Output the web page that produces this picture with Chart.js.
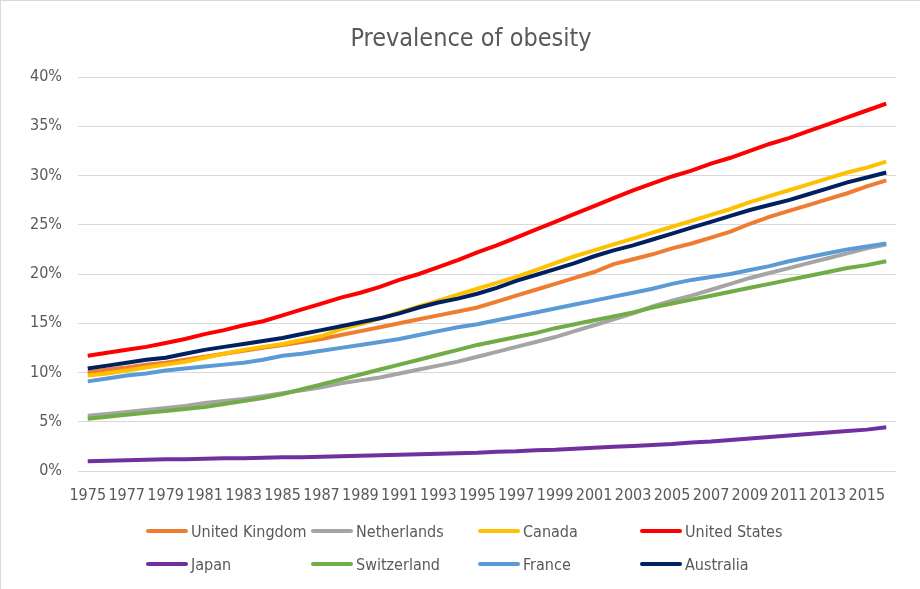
<!DOCTYPE html>
<html lang="en">
<head>
  <meta charset="UTF-8" />
  <title>Prevalence of obesity</title>
  <script src="https://cdn.jsdelivr.net/npm/chart.js"></script>
  <style>
    body {
      margin: 0;
      padding: 0;
      background: #ffffff;
      font-family: 'Liberation Sans Narrow', 'DejaVu Sans Condensed', sans-serif;
    }

    #chart-container {
      position: relative;
      width: 920px;
      height: 589px;
      box-sizing: border-box;
      border-top: 1px solid #d9d9d9;
      border-left: 1px solid #d9d9d9;
    }

    #chart-title {
      position: absolute;
      left: 0;
      top: 22px;
      width: 940px;
      text-align: center;
      font-size: 25px;
      line-height: 30px;
      color: #595959;
    }

    #chart-legend {
      position: absolute;
      left: 145px;
      top: 520px;
      display: grid;
      grid-template-columns: 165px 167px 162px 165px;
      row-gap: 13px;
      font-size: 16px;
      color: #595959;
    }

    .legend-item {
      display: flex;
      align-items: center;
      height: 20px;
    }

    .legend-swatch {
      width: 42px;
      height: 4px;
      border-radius: 2px;
      margin-right: 3px;
    }
  </style>
</head>
<body>
  <div id="chart-container">
    <canvas id="myChart"></canvas>
    <div id="chart-title">Prevalence of obesity</div>
    <div id="chart-legend"></div>
  </div>

  <script>
    // years 1975 - 2016
    const years = [];
    for (let y = 1975; y <= 2016; y++) years.push(String(y));

    const yTicks = [0, 5, 10, 15, 20, 25, 30, 35, 40];

    // prevalence of obesity, % of adults
    const unitedKingdom = [10.0, 10.3, 10.5, 10.8, 11.0, 11.3, 11.6, 11.9, 12.2, 12.5, 12.8, 13.1, 13.4, 13.8, 14.2, 14.6, 15.0, 15.4, 15.8, 16.2, 16.6, 17.2, 17.8, 18.4, 19.0, 19.6, 20.2, 21.0, 21.5, 22.0, 22.6, 23.1, 23.7, 24.3, 25.1, 25.8, 26.4, 27.0, 27.6, 28.2, 28.9, 29.5];
    const netherlands = [5.6, 5.8, 6.0, 6.2, 6.4, 6.6, 6.9, 7.1, 7.3, 7.6, 7.9, 8.2, 8.5, 8.9, 9.2, 9.5, 9.9, 10.3, 10.7, 11.1, 11.6, 12.1, 12.6, 13.1, 13.6, 14.2, 14.8, 15.4, 16.0, 16.7, 17.3, 17.8, 18.4, 19.0, 19.6, 20.1, 20.6, 21.1, 21.6, 22.1, 22.6, 23.0];
    const canada = [9.7, 9.9, 10.2, 10.5, 10.8, 11.1, 11.5, 11.9, 12.3, 12.6, 12.9, 13.3, 13.7, 14.4, 14.9, 15.5, 16.1, 16.7, 17.3, 17.9, 18.5, 19.1, 19.7, 20.4, 21.1, 21.8, 22.4, 23.0, 23.6, 24.2, 24.8, 25.4, 26.0, 26.6, 27.3, 27.9, 28.5, 29.1, 29.7, 30.3, 30.8, 31.4];
    const unitedStates = [11.7, 12.0, 12.3, 12.6, 13.0, 13.4, 13.9, 14.3, 14.8, 15.2, 15.8, 16.4, 17.0, 17.6, 18.1, 18.7, 19.4, 20.0, 20.7, 21.4, 22.2, 22.9, 23.7, 24.5, 25.3, 26.1, 26.9, 27.7, 28.5, 29.2, 29.9, 30.5, 31.2, 31.8, 32.5, 33.2, 33.8, 34.5, 35.2, 35.9, 36.6, 37.3];
    const japan = [1.0, 1.05, 1.1, 1.15, 1.2, 1.2, 1.25, 1.3, 1.3, 1.35, 1.4, 1.4, 1.45, 1.5, 1.55, 1.6, 1.65, 1.7, 1.75, 1.8, 1.85, 1.95, 2.0, 2.1, 2.15, 2.25, 2.35, 2.45, 2.55, 2.65, 2.75, 2.9, 3.0, 3.15, 3.3, 3.45, 3.6, 3.75, 3.9, 4.05, 4.2, 4.45];
    const switzerland = [5.3, 5.5, 5.7, 5.9, 6.1, 6.3, 6.5, 6.8, 7.1, 7.4, 7.8, 8.3, 8.8, 9.3, 9.8, 10.3, 10.8, 11.3, 11.8, 12.3, 12.8, 13.2, 13.6, 14.0, 14.5, 14.9, 15.3, 15.7, 16.1, 16.6, 17.0, 17.4, 17.8, 18.2, 18.6, 19.0, 19.4, 19.8, 20.2, 20.6, 20.9, 21.3];
    const france = [9.1, 9.4, 9.7, 9.9, 10.2, 10.4, 10.6, 10.8, 11.0, 11.3, 11.7, 11.9, 12.2, 12.5, 12.8, 13.1, 13.4, 13.8, 14.2, 14.6, 14.9, 15.3, 15.7, 16.1, 16.5, 16.9, 17.3, 17.7, 18.1, 18.5, 19.0, 19.4, 19.7, 20.0, 20.4, 20.8, 21.3, 21.7, 22.1, 22.5, 22.8, 23.1];
    const australia = [10.4, 10.7, 11.0, 11.3, 11.5, 11.9, 12.3, 12.6, 12.9, 13.2, 13.5, 13.9, 14.3, 14.7, 15.1, 15.5, 16.0, 16.6, 17.1, 17.5, 18.0, 18.6, 19.3, 19.9, 20.5, 21.1, 21.8, 22.4, 22.9, 23.5, 24.1, 24.7, 25.3, 25.9, 26.5, 27.0, 27.5, 28.1, 28.7, 29.3, 29.8, 30.3];

    const series = [
      { label: 'United Kingdom', data: unitedKingdom, color: '#ED7D31' },
      { label: 'Netherlands', data: netherlands, color: '#A5A5A5' },
      { label: 'Canada', data: canada, color: '#FFC000' },
      { label: 'United States', data: unitedStates, color: '#FF0000' },
      { label: 'Japan', data: japan, color: '#7030A0' },
      { label: 'Switzerland', data: switzerland, color: '#70AD47' },
      { label: 'France', data: france, color: '#5B9BD5' },
      { label: 'Australia', data: australia, color: '#002060' }
    ];

    const fontFamily = "'Liberation Sans Narrow', 'DejaVu Sans Condensed', sans-serif";
    Chart.defaults.font.family = fontFamily;
    Chart.defaults.color = '#595959';

    const ctx = document.getElementById('myChart').getContext('2d');

    new Chart(ctx, {
      type: 'line',
      data: {
        labels: years,
        datasets: series.map((s, i) => ({
          label: s.label,
          data: s.data,
          borderColor: s.color,
          backgroundColor: s.color,
          borderWidth: 4,
          pointRadius: 0,
          tension: 0,
          // later series sit on top
          order: series.length - i
        }))
      },
      options: {
        responsive: true,
        maintainAspectRatio: false,
        animation: false,
        layout: {
          padding: { left: 0, right: 24, top: 76, bottom: 0 }
        },
        scales: {
          x: {
            offset: true,
            grid: { display: false },
            border: { display: false },
            ticks: {
              autoSkip: false,
              maxRotation: 0,
              minRotation: 0,
              padding: 7,
              font: { size: 16 },
              callback: function (value, index) {
                return index % 2 === 0 ? this.getLabelForValue(value) : '';
              }
            },
            afterFit: scale => { scale.height = 118; }
          },
          y: {
            min: 0,
            max: 40,
            afterBuildTicks: scale => {
              scale.ticks = yTicks.map(v => ({ value: v }));
            },
            grid: {
              color: '#d9d9d9',
              lineWidth: 1,
              drawTicks: false
            },
            border: { display: false },
            ticks: {
              padding: 16,
              font: { size: 16 },
              callback: v => v + '%'
            },
            afterFit: scale => { scale.width = 77; }
          }
        },
        plugins: {
          title: { display: false },
          legend: { display: false },
          tooltip: { enabled: false }
        }
      }
    });

    // legend laid out in a 4 x 2 grid
    const legendEl = document.getElementById('chart-legend');
    series.forEach(s => {
      const item = document.createElement('div');
      item.className = 'legend-item';
      const sw = document.createElement('span');
      sw.className = 'legend-swatch';
      sw.style.background = s.color;
      const txt = document.createElement('span');
      txt.textContent = s.label;
      item.appendChild(sw);
      item.appendChild(txt);
      legendEl.appendChild(item);
    });
  </script>
</body>
</html>
